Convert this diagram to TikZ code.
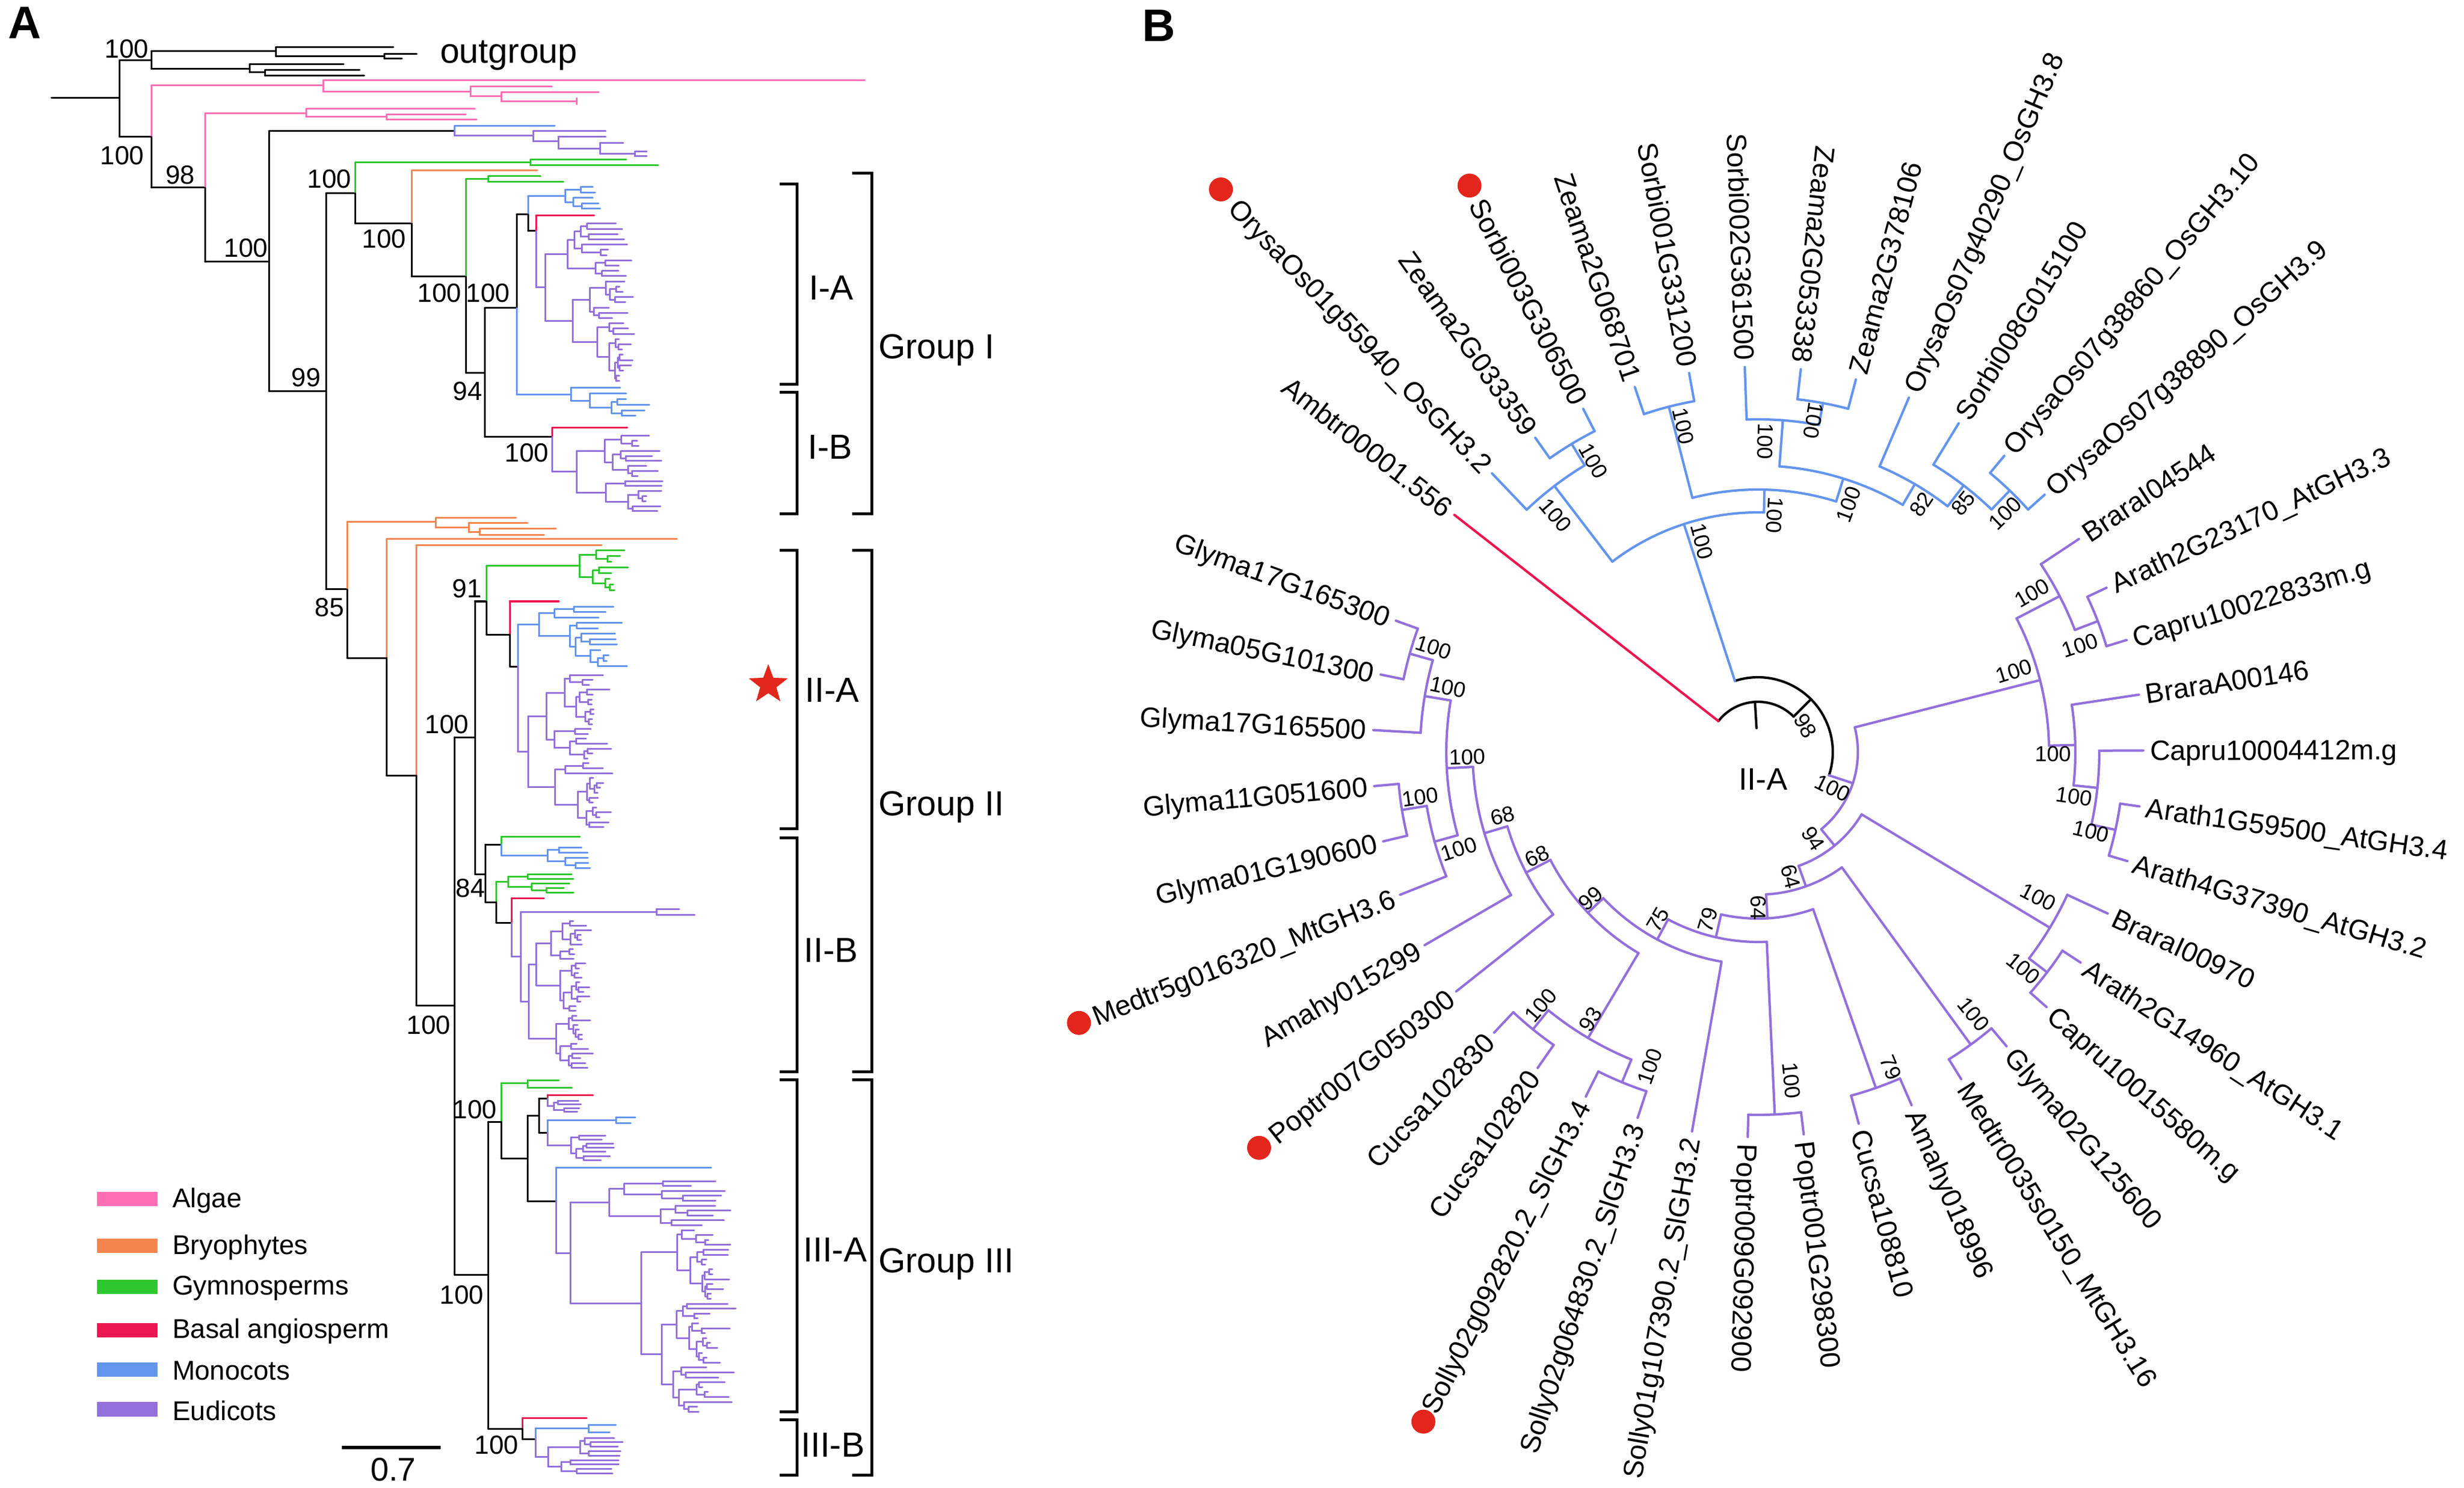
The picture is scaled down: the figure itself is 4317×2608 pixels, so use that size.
\documentclass[tikz,border=0pt]{standalone}
\usepackage{fontspec}
\setmainfont{Liberation Sans}
\usetikzlibrary{calc,shapes.geometric}
\definecolor{algc}{HTML}{FF6EB4}
\definecolor{bryc}{HTML}{F5854F}
\definecolor{gymc}{HTML}{2EC82E}
\definecolor{basc}{HTML}{EC1650}
\definecolor{monc}{HTML}{6495ED}
\definecolor{eudc}{HTML}{9370DB}
\definecolor{dotc}{HTML}{E3261B}
\tikzset{
  lnA/.style={line width=0.6pt, line cap=round},
  bk/.style={lnA, draw=black},
  al/.style={lnA, draw=algc},
  bry/.style={lnA, draw=bryc},
  gy/.style={lnA, draw=gymc},
  ba/.style={lnA, draw=basc},
  mo/.style={lnA, draw=monc},
  eu/.style={lnA, draw=eudc},
  lnB/.style={line width=0.85pt, line cap=round},
  bkB/.style={lnB, draw=black},
  baB/.style={lnB, draw=basc},
  moB/.style={lnB, draw=monc},
  euB/.style={lnB, draw=eudc},
  brk/.style={draw=black, line width=1pt},
  leafB/.style={inner sep=0pt, font=\fontsize{9.8}{11}\selectfont, text height=7pt, text depth=0pt},
  bsB/.style={inner sep=0pt, font=\fontsize{7.6}{9}\selectfont},
  bsA/.style={inner sep=0pt, font=\fontsize{9.2}{11}\selectfont},
  labA/.style={inner sep=0pt, font=\fontsize{12.2}{14}\selectfont},
  legt/.style={inner sep=0pt, anchor=west, font=\fontsize{9.5}{11}\selectfont},
}
\makeatletter
\def\cljit{40}
\newcommand\cl[7]{%
  \begingroup
  \ifnum#5<2\relax
    \pgfmathsetmacro\cl@xe{max(#2+6,#7+\cljit*(rnd-0.5))}%
    \draw[#1] (#2,#4) -- (\cl@xe,#4);
    \xdef\clret{#4}%
  \else
    \pgfmathtruncatemacro\cl@ka{max(1,min(#5-1,round(#5*(0.2+0.45*rnd))))}%
    \pgfmathtruncatemacro\cl@kb{#5-\cl@ka}%
    \pgfmathsetmacro\cl@yb{#4+\cl@ka*#6}%
    \pgfmathsetmacro\cl@xa{#3+(#7-#3)*(0.12+0.4*rnd)}%
    \pgfmathsetmacro\cl@xb{#3+(#7-#3)*(0.12+0.4*rnd)}%
    \edef\cl@next{\noexpand\cl{#1}{#3}{\cl@xa}{#4}{\cl@ka}{#6}{#7}}\cl@next
    \let\cl@sa\clret
    \edef\cl@next{\noexpand\cl{#1}{#3}{\cl@xb}{\cl@yb}{\cl@kb}{#6}{#7}}\cl@next
    \let\cl@sb\clret
    \draw[#1] (#3,\cl@sa) -- (#3,\cl@sb);
    \pgfmathsetmacro\cl@s{(\cl@sa+\cl@sb)/2}%
    \draw[#1] (#2,\cl@s) -- (#3,\cl@s);
    \xdef\clret{\cl@s}%
  \fi
  \endgroup}
\makeatother
\newcommand\trad[4]{\draw[#1] (#2:#3) -- (#2:#4);}
\newcommand\arcb[4]{\draw[#1] (#2:#4) arc[start angle=#2, end angle=#3, radius=#4];}
\newcommand\lfR[3][]{\node[leafB,rotate=#2,anchor=west,#1] at (#2:686) {#3};}
\newcommand\lfL[3][]{\node[leafB,rotate=#2+180,anchor=east,#1] at (#2:686) {#3};}
\newcommand\bsR[3]{\node[bsB,rotate=#1] at (#1:#2) {#3};}
\newcommand\bsL[3]{\node[bsB,rotate=#1+180] at (#1:#2) {#3};}
\begin{document}
\begin{tikzpicture}[x=0.2pt,y=-0.2pt]
\useasboundingbox (0,0) rectangle (4317,2608);
\fill[white] (0,0) rectangle (4317,2608);
% ================= PANEL A =================
\node[inner sep=0pt, font=\fontsize{16}{18}\selectfont\bfseries] (pA) at (43,40) {A};
% root and outgroup
\draw[bk] (90,172) -- (209,172);
\draw[bk] (209,106) -- (209,240);
\draw[bk] (209,106) -- (265,106);
\draw[bk] (265,90) -- (265,121);
\draw[bk] (265,90) -- (483,90);
\draw[bk] (483,83) -- (483,99);
\draw[bk] (483,83) -- (689,83);
\draw[bk] (483,99) -- (673,99);
\draw[bk] (673,95) -- (673,103);
\draw[bk] (673,95) -- (730,95);
\draw[bk] (673,103) -- (704,103);
\draw[bk] (265,121) -- (437,121);
\draw[bk] (437,113) -- (437,127);
\draw[bk] (437,113) -- (602,113);
\draw[bk] (437,127) -- (464,127);
\draw[bk] (464,123) -- (464,133);
\draw[bk] (464,123) -- (630,123);
\draw[bk] (464,133) -- (638,133);
\node[labA, anchor=west] (og) at (770,97) {outgroup};
% node 100 (algae 1)
\draw[bk] (209,240) -- (265,240);
\draw[al] (265,150) -- (265,240);
\draw[bk] (265,240) -- (265,329);
\draw[al] (265,150) -- (566,150);
\draw[al] (566,141) -- (566,161);
\draw[al] (566,141) -- (1515,141);
\draw[al] (566,161) -- (824,161);
\draw[al] (824,152) -- (824,169);
\draw[al] (824,152) -- (967,152);
\draw[al] (824,169) -- (878,169);
\draw[al] (878,162) -- (878,178);
\draw[al] (878,162) -- (1049,162);
\draw[al] (878,178) -- (1010,178);
\draw[al] (1010,172) -- (1010,183);
% node 98 (algae 2)
\draw[bk] (265,329) -- (359,329);
\draw[al] (359,199) -- (359,329);
\draw[bk] (359,329) -- (359,459);
\draw[al] (359,199) -- (536,199);
\draw[al] (536,191) -- (536,205);
\draw[al] (536,191) -- (832,191);
\draw[al] (536,205) -- (677,205);
\draw[al] (677,201) -- (677,210);
\draw[al] (677,201) -- (816,201);
\draw[al] (677,210) -- (835,210);
% node 100 at 471
\draw[bk] (359,459) -- (471,459);
\draw[bk] (471,230) -- (471,686);
\draw[bk] (471,230) -- (796,230);
\draw[mo] (796,221) -- (796,230);
\draw[eu] (796,230) -- (796,238);
\draw[mo] (796,221) -- (972,221);
\draw[eu] (796,238) -- (934,238);
\draw[eu] (934,230) -- (934,248);
\draw[eu] (934,230) -- (1061,230);
\draw[eu] (934,248) -- (978,248);
\draw[eu] (978,240) -- (978,261);
\draw[eu] (978,240) -- (1061,240);
\draw[eu] (978,261) -- (1051,261);
\draw[eu] (1051,251) -- (1051,270);
\draw[eu] (1051,251) -- (1092,251);
\draw[eu] (1051,270) -- (1112,270);
\draw[eu] (1112,266) -- (1112,274);
\draw[eu] (1112,266) -- (1133,266);
\draw[eu] (1112,274) -- (1133,274);
% node 99 at 571
\draw[bk] (471,686) -- (571,686);
\draw[bk] (571,339) -- (571,1033);
% Group I
\draw[bk] (571,339) -- (622,339);
\draw[gy] (622,285) -- (622,339);
\draw[bk] (622,339) -- (622,392);
\draw[gy] (622,285) -- (929,285);
\draw[gy] (929,280) -- (929,290);
\draw[gy] (929,280) -- (1097,280);
\draw[gy] (929,290) -- (1153,290);
\draw[bk] (622,392) -- (721,392);
\draw[bry] (721,299) -- (721,392);
\draw[bk] (721,392) -- (721,485);
\draw[bry] (721,299) -- (941,299);
\draw[bk] (721,485) -- (816,485);
\draw[gy] (816,314) -- (816,485);
\draw[bk] (816,485) -- (816,654);
\draw[gy] (816,314) -- (855,314);
\draw[gy] (855,309) -- (855,319);
\draw[gy] (855,309) -- (947,309);
\draw[gy] (855,319) -- (987,319);
\draw[bk] (816,654) -- (849,654);
\draw[bk] (849,540) -- (849,766);
% I-A
\draw[bk] (849,540) -- (905,540);
\draw[bk] (905,376) -- (905,540);
\draw[bk] (905,376) -- (925,376);
\pgfmathsetseed{11}\def\cljit{20}\cl{mo}{925}{990}{328}{5}{9.5}{1045}
\draw[mo] (925,\clret) -- (925,376);
\draw[bk] (925,376) -- (925,405);
\draw[bk] (925,405) -- (939,405);
\draw[ba] (939,378) -- (939,405);
\draw[ba] (939,378) -- (1041,378);
\pgfmathsetseed{12}\def\cljit{60}\cl{eu}{939}{955}{392}{31}{9.2}{1090}
\draw[eu] (939,405) -- (939,\clret);
\pgfmathsetseed{13}\def\cljit{60}\cl{mo}{905}{1000}{680}{6}{9.8}{1110}
\draw[mo] (905,540) -- (905,\clret);
% I-B
\draw[bk] (849,766) -- (967,766);
\draw[ba] (967,750) -- (967,766);
\draw[ba] (967,750) -- (1099,750);
\pgfmathsetseed{14}\def\cljit{50}\cl{eu}{967}{1010}{764}{16}{8.8}{1140}
\draw[eu] (967,766) -- (967,\clret);
% node 85
\draw[bk] (571,1033) -- (608,1033);
\draw[bry] (608,915) -- (608,1033);
\draw[bk] (608,1033) -- (608,1153);
\draw[bry] (608,915) -- (763,915);
\draw[bry] (763,908) -- (763,925);
\draw[bry] (763,908) -- (904,908);
\draw[bry] (763,925) -- (821,925);
\draw[bry] (821,917) -- (821,933);
\draw[bry] (821,917) -- (924,917);
\draw[bry] (821,933) -- (840,933);
\draw[bry] (840,927) -- (840,938);
\draw[bry] (840,927) -- (974,927);
\draw[bry] (840,938) -- (953,938);
\draw[bk] (608,1153) -- (677,1153);
\draw[bry] (677,945) -- (677,1153);
\draw[bk] (677,1153) -- (677,1359);
\draw[bry] (677,945) -- (1186,945);
\draw[bk] (677,1359) -- (729,1359);
\draw[bry] (729,956) -- (729,1359);
\draw[bk] (729,1359) -- (729,1762);
\draw[bry] (729,956) -- (1054,956);
\draw[bk] (729,1762) -- (796,1762);
\draw[bk] (796,1292) -- (796,2234);
% II
\draw[bk] (796,1292) -- (832,1292);
\draw[bk] (832,1054) -- (832,1532);
\draw[bk] (832,1054) -- (852,1054);
\pgfmathsetseed{15}\def\cljit{40}\cl{gy}{852}{1015}{965}{8}{10}{1085}
\draw[gy] (852,\clret) -- (852,1054);
\draw[bk] (852,1054) -- (852,1112);
\draw[bk] (852,1112) -- (893,1112);
\draw[ba] (893,1054) -- (893,1112);
\draw[ba] (893,1054) -- (979,1054);
\draw[bk] (893,1112) -- (893,1168);
\draw[bk] (893,1168) -- (907,1168);
\pgfmathsetseed{16}\def\cljit{60}\cl{mo}{907}{944}{1063}{12}{9.5}{1070}
\draw[mo] (907,\clret) -- (907,1168);
\pgfmathsetseed{17}\def\cljit{50}\cl{eu}{907}{925}{1183}{32}{8.6}{1050}
\draw[eu] (907,1168) -- (907,\clret);
% II-B
\draw[bk] (832,1532) -- (850,1532);
\draw[bk] (850,1480) -- (850,1581);
\draw[bk] (850,1480) -- (878,1480);
\draw[gy] (878,1466) -- (878,1480);
\draw[gy] (878,1466) -- (1016,1466);
\pgfmathsetseed{18}\def\cljit{20}\cl{mo}{878}{959}{1485}{5}{9}{1025}
\draw[mo] (878,1480) -- (878,\clret);
\draw[bk] (850,1581) -- (869,1581);
\pgfmathsetseed{19}\def\cljit{30}\cl{gy}{869}{890}{1532}{5}{8}{990}
\draw[gy] (869,\clret) -- (869,1581);
\draw[bk] (869,1581) -- (869,1617);
\draw[bk] (869,1617) -- (896,1617);
\draw[ba] (896,1574) -- (896,1617);
\draw[ba] (896,1574) -- (953,1574);
\pgfmathsetseed{20}\def\cljit{40}\cl{eu}{912}{926}{1614}{32}{8.3}{1020}
\draw[eu] (912,1598) -- (912,\clret);
\pgfmathsetmacro\tmps{(1598+\clret)/2}
\draw[eu] (896,\tmps) -- (912,\tmps);
\draw[eu] (896,1617) -- (896,\tmps);
\draw[eu] (912,1598) -- (1150,1598);
\draw[eu] (1150,1593) -- (1150,1603);
\draw[eu] (1150,1593) -- (1190,1593);
\draw[eu] (1150,1603) -- (1217,1603);
% III
\draw[bk] (796,2234) -- (855,2234);
\draw[bk] (855,1966) -- (855,2504);
\draw[bk] (855,1966) -- (878,1966);
\draw[gy] (878,1898) -- (878,1966);
\draw[bk] (878,1966) -- (878,2030);
\draw[gy] (878,1898) -- (924,1898);
\draw[gy] (924,1893) -- (924,1906);
\draw[gy] (924,1893) -- (979,1893);
\draw[gy] (924,1906) -- (1002,1906);
\draw[bk] (878,2030) -- (924,2030);
\draw[bk] (924,1955) -- (924,2105);
\draw[bk] (924,1955) -- (944,1955);
\draw[bk] (944,1925) -- (944,1985);
\draw[bk] (944,1925) -- (959,1925);
\draw[ba] (959,1919) -- (959,1925);
\draw[ba] (959,1919) -- (1039,1919);
\pgfmathsetseed{21}\def\cljit{20}\cl{eu}{959}{970}{1929}{4}{6.5}{1010}
\draw[eu] (959,1925) -- (959,\clret);
\draw[bk] (944,1985) -- (959,1985);
\draw[mo] (959,1963) -- (959,1985);
\draw[mo] (959,1963) -- (1079,1963);
\draw[mo] (1079,1958) -- (1079,1968);
\draw[mo] (1079,1958) -- (1113,1958);
\draw[mo] (1079,1968) -- (1105,1968);
\pgfmathsetseed{22}\def\cljit{30}\cl{eu}{959}{1000}{1990}{7}{7.2}{1065}
\draw[eu] (959,1985) -- (959,\clret);
\draw[bk] (924,2105) -- (974,2105);
\draw[mo] (974,2046) -- (974,2105);
\draw[mo] (974,2046) -- (1246,2046);
\pgfmathsetseed{23}\def\cljit{80}\cl{eu}{974}{999}{2070}{48}{8.6}{1250}
\draw[eu] (974,2105) -- (974,\clret);
% III-B
\draw[bk] (855,2504) -- (915,2504);
\draw[ba] (915,2485) -- (915,2504);
\draw[ba] (915,2485) -- (1028,2485);
\draw[bk] (915,2504) -- (915,2522);
\draw[bk] (915,2522) -- (938,2522);
\draw[mo] (938,2503) -- (938,2522);
\draw[mo] (938,2503) -- (1031,2503);
\draw[mo] (1031,2497) -- (1031,2510);
\draw[mo] (1031,2497) -- (1079,2497);
\draw[mo] (1031,2510) -- (1068,2510);
\pgfmathsetseed{24}\def\cljit{30}\cl{eu}{938}{960}{2520}{9}{7.8}{1080}
\draw[eu] (938,2522) -- (938,\clret);
% bootstrap labels A
\node[bsA] at (222,86) {100};
\node[bsA] at (214,273) {100};
\node[bsA] at (316,307) {98};
\node[bsA] at (431,435) {100};
\node[bsA] at (536,662) {99};
\node[bsA] at (577,314) {100};
\node[bsA] at (673,419) {100};
\node[bsA] at (770,514) {100};
\node[bsA] at (855,514) {100};
\node[bsA] at (819,686) {94};
\node[bsA] at (923,794) {100};
\node[bsA] at (577,1065) {85};
\node[bsA] at (818,1032) {91};
\node[bsA] at (783,1270) {100};
\node[bsA] at (824,1557) {84};
\node[bsA] at (751,1797) {100};
\node[bsA] at (832,1945) {100};
\node[bsA] at (809,2270) {100};
\node[bsA] at (870,2533) {100};
% brackets
\draw[brk] (1366,323) -- (1396,323) -- (1396,674) -- (1366,674);
\draw[brk] (1366,688) -- (1396,688) -- (1396,901) -- (1366,901);
\draw[brk] (1493,304) -- (1527,304) -- (1527,901) -- (1493,901);
\draw[brk] (1366,965) -- (1396,965) -- (1396,1452) -- (1366,1452);
\draw[brk] (1366,1468) -- (1396,1468) -- (1396,1878) -- (1366,1878);
\draw[brk] (1493,965) -- (1527,965) -- (1527,1878) -- (1493,1878);
\draw[brk] (1366,1892) -- (1396,1892) -- (1396,2474) -- (1366,2474);
\draw[brk] (1366,2488) -- (1396,2488) -- (1396,2585) -- (1366,2585);
\draw[brk] (1493,1892) -- (1527,1892) -- (1527,2585) -- (1493,2585);
\node[labA] (lIA) at (1456,505) {I-A};
\node[labA] (lIB) at (1454,784) {I-B};
\node[labA, anchor=west] (lG1) at (1538,614) {Group I};
\node[labA] (lIIA) at (1458,1210) {II-A};
\node[labA, anchor=west] (lG2) at (1538,1415) {Group II};
\node[labA] (lIIB) at (1456,1666) {II-B};
\node[labA] (lIIIA) at (1463,2190) {III-A};
\node[labA, anchor=west] (lG3) at (1538,2216) {Group III};
\node[labA] (lIIIB) at (1459,2532) {III-B};
\node[star, star points=5, star point ratio=2.4, fill=dotc, inner sep=0pt, minimum size=14.4pt] (st) at (1346,1200) {};
% legend
\fill[algc] (170,2089) rectangle (276,2114);
\fill[bryc] (170,2171) rectangle (276,2196);
\fill[gymc] (170,2243) rectangle (276,2268);
\fill[basc] (170,2319) rectangle (276,2344);
\fill[monc] (170,2388) rectangle (276,2413);
\fill[eudc] (170,2457) rectangle (276,2483);
\node[legt] (g1) at (301,2104) {Algae};
\node[legt] (g2) at (301,2186) {Bryophytes};
\node[legt] (g3) at (301,2258) {Gymnosperms};
\node[legt] (g4) at (301,2333) {Basal angiosperm};
\node[legt] (g5) at (301,2402) {Monocots};
\node[legt] (g6) at (301,2472) {Eudicots};
\draw[line width=1.1pt] (599,2537) -- (772,2537);
\node[inner sep=0pt, font=\fontsize{11.5}{13}\selectfont] (sc) at (689,2576) {0.7};
% ================= PANEL B =================
\node[inner sep=0pt, font=\fontsize{16}{18}\selectfont\bfseries] (pB) at (2030,45) {B};
\begin{scope}[shift={(3080,1318)}, yscale=-1]
\trad{bkB}{93.45}{42}{88}
\arcb{bkB}{44.9}{142}{88}
\trad{baB}{142}{88}{675}
\trad{bkB}{44.9}{88}{131}
\arcb{bkB}{-18.21}{108}{131}
% monocots
\trad{moB}{108}{131}{420}
\arcb{moB}{88.58}{127.41}{420}
\trad{moB}{127.41}{420}{587}
\arcb{moB}{121.15}{133.66}{587}
\trad{moB}{133.66}{587}{675}
\trad{moB}{121.15}{587}{631}
\arcb{moB}{116.98}{125.32}{631}
\trad{moB}{125.32}{631}{675}
\trad{moB}{116.98}{631}{675}
\trad{moB}{88.58}{420}{460}
\arcb{moB}{72.68}{104.47}{460}
\trad{moB}{104.47}{460}{625}
\arcb{moB}{100.30}{108.64}{625}
\trad{moB}{108.64}{625}{675}
\trad{moB}{100.30}{625}{675}
\trad{moB}{72.68}{460}{502}
\arcb{moB}{59.65}{85.71}{502}
\trad{moB}{85.71}{502}{583}
\arcb{moB}{79.45}{91.96}{583}
\trad{moB}{91.96}{583}{675}
\trad{moB}{79.45}{583}{622}
\arcb{moB}{75.28}{83.62}{622}
\trad{moB}{83.62}{622}{675}
\trad{moB}{75.28}{622}{675}
\trad{moB}{59.65}{502}{544}
\arcb{moB}{52.35}{66.94}{544}
\trad{moB}{66.94}{544}{675}
\trad{moB}{52.35}{544}{590}
\arcb{moB}{46.09}{58.60}{590}
\trad{moB}{58.60}{590}{675}
\trad{moB}{46.09}{590}{636}
\arcb{moB}{41.92}{50.26}{636}
\trad{moB}{50.26}{636}{675}
\trad{moB}{41.92}{636}{675}
% eudicots
\trad{euB}{-18.21}{131}{175}
\arcb{euB}{-50.72}{14.30}{175}
\trad{euB}{14.30}{175}{510}
\arcb{euB}{1.26}{27.33}{510}
\trad{euB}{27.33}{510}{595}
\arcb{euB}{21.07}{33.58}{595}
\trad{euB}{33.58}{595}{675}
\trad{euB}{21.07}{595}{638}
\arcb{euB}{16.90}{25.24}{638}
\trad{euB}{25.24}{638}{675}
\trad{euB}{16.90}{638}{675}
\trad{euB}{1.26}{510}{556}
\arcb{euB}{-6.04}{8.56}{556}
\trad{euB}{8.56}{556}{675}
\trad{euB}{-6.04}{556}{598}
\arcb{euB}{-12.29}{0.22}{598}
\trad{euB}{0.22}{598}{675}
\trad{euB}{-12.29}{598}{641}
\arcb{euB}{-16.46}{-8.12}{641}
\trad{euB}{-8.12}{641}{675}
\trad{euB}{-16.46}{641}{675}
\trad{euB}{-50.72}{175}{212}
\arcb{euB}{-70.37}{-31.06}{212}
\trad{euB}{-31.06}{212}{597}
\arcb{euB}{-37.31}{-24.80}{597}
\trad{euB}{-24.80}{597}{675}
\trad{euB}{-37.31}{597}{637}
\arcb{euB}{-41.48}{-33.14}{637}
\trad{euB}{-33.14}{637}{675}
\trad{euB}{-41.48}{637}{675}
\trad{euB}{-70.37}{212}{250}
\arcb{euB}{-86.74}{-53.99}{250}
\trad{euB}{-53.99}{250}{634}
\arcb{euB}{-58.16}{-49.82}{634}
\trad{euB}{-49.82}{634}{675}
\trad{euB}{-58.16}{634}{675}
\trad{euB}{-86.74}{250}{292}
\arcb{euB}{-102.8}{-70.67}{292}
\trad{euB}{-70.67}{292}{624}
\arcb{euB}{-74.84}{-66.50}{624}
\trad{euB}{-66.50}{624}{675}
\trad{euB}{-74.84}{624}{675}
\trad{euB}{-102.8}{292}{333}
\arcb{euB}{-118.24}{-87.35}{333}
\trad{euB}{-87.35}{333}{636}
\arcb{euB}{-91.52}{-83.18}{636}
\trad{euB}{-83.18}{636}{675}
\trad{euB}{-91.52}{636}{675}
\trad{euB}{-118.24}{333}{373}
\arcb{euB}{-136.61}{-99.86}{373}
\trad{euB}{-99.86}{373}{675}
\trad{euB}{-136.61}{373}{410}
\arcb{euB}{-152.51}{-120.71}{410}
\trad{euB}{-120.71}{410}{583}
\arcb{euB}{-129.05}{-112.37}{583}
\trad{euB}{-112.37}{583}{626}
\arcb{euB}{-116.54}{-108.2}{626}
\trad{euB}{-108.2}{626}{675}
\trad{euB}{-116.54}{626}{675}
\trad{euB}{-129.05}{583}{626}
\arcb{euB}{-133.22}{-124.88}{626}
\trad{euB}{-124.88}{626}{675}
\trad{euB}{-133.22}{626}{675}
\trad{euB}{-152.51}{410}{458}
\arcb{euB}{-163.46}{-141.56}{458}
\trad{euB}{-141.56}{458}{675}
\trad{euB}{-163.46}{458}{500}
\arcb{euB}{-177.01}{-149.9}{500}
\trad{euB}{-149.9}{500}{675}
\trad{euB}{-177.01}{500}{546}
\arcb{euB}{-189.52}{-164.5}{546}
\trad{euB}{-164.5}{546}{588}
\arcb{euB}{-170.75}{-158.24}{588}
\trad{euB}{-158.24}{588}{675}
\trad{euB}{-170.75}{588}{632}
\arcb{euB}{-174.92}{-166.58}{632}
\trad{euB}{-166.58}{632}{675}
\trad{euB}{-174.92}{632}{675}
\trad{euB}{-189.52}{546}{592}
\arcb{euB}{-195.77}{-183.26}{592}
\trad{euB}{-183.26}{592}{675}
\trad{euB}{-195.77}{592}{634}
\arcb{euB}{-199.94}{-191.6}{634}
\trad{euB}{-191.6}{634}{675}
\trad{euB}{-199.94}{634}{675}
% leaf labels
\lfL{142}{Ambtr00001.556}
\lfL{133.66}{OrysaOs01g55940\_OsGH3.2}
\lfL{125.32}{Zeama2G033359}
\lfL{116.98}{Sorbi003G306500}
\lfL{108.64}{Zeama2G068701}
\lfL{100.30}{Sorbi001G331200}
\lfL{91.96}{Sorbi002G361500}
\lfL{83.62}{Zeama2G053338}
\lfR{75.28}{Zeama2G378106}
\lfR{66.94}{OrysaOs07g40290\_OsGH3.8}
\lfR{58.60}{Sorbi008G015100}
\lfR{50.26}{OrysaOs07g38860\_OsGH3.10}
\lfR{41.92}{OrysaOs07g38890\_OsGH3.9}
\lfR{33.58}{BraraI04544}
\lfR{25.24}{Arath2G23170\_AtGH3.3}
\lfR{16.90}{Capru10022833m.g}
\lfR{8.56}{BraraA00146}
\lfR{0.22}{Capru10004412m.g}
\lfR{-8.12}{Arath1G59500\_AtGH3.4}
\lfR{-16.46}{Arath4G37390\_AtGH3.2}
\lfR{-24.80}{BraraI00970}
\lfR{-33.14}{Arath2G14960\_AtGH3.1}
\lfR{-41.48}{Capru10015580m.g}
\lfR{-49.82}{Glyma02G125600}
\lfR{-58.16}{Medtr0035s0150\_MtGH3.16}
\lfR{-66.50}{Amahy018996}
\lfR{-74.84}{Cucsa108810}
\lfR{-83.18}{Poptr001G298300}
\lfR{-91.52}{Poptr009G092900}
\lfL{-99.86}{Solly01g107390.2\_SlGH3.2}
\lfL{-108.2}{Solly02g064830.2\_SlGH3.3}
\lfL{-116.54}{Solly02g092820.2\_SlGH3.4}
\lfL{-124.88}{Cucsa102820}
\lfL{-133.22}{Cucsa102830}
\lfL{-141.56}{Poptr007G050300}
\lfL{-149.9}{Amahy015299}
\lfL{-158.24}{Medtr5g016320\_MtGH3.6}
\lfL{-166.58}{Glyma01G190600}
\lfL{-174.92}{Glyma11G051600}
\lfL{-183.26}{Glyma17G165500}
\lfL{-191.6}{Glyma05G101300}
\lfL{-199.94}{Glyma17G165300}
% red dots
\fill[dotc] (133.66:1363) circle[radius=21];
\fill[dotc] (116.98:1114) circle[radius=21];
\fill[dotc] (-158.24:1281) circle[radius=21];
\fill[dotc] (-141.56:1116) circle[radius=21];
\fill[dotc] (-116.54:1312) circle[radius=21];
% bootstrap labels B
\bsL{119.5}{586}{100}
\bsL{130.5}{546}{100}
\bsL{102.9}{586}{100}
\bsL{104.9}{382}{100}
\bsL{88.7}{545}{100}
\bsL{80.5}{589}{100}
\bsL{86}{416}{100}
\bsR{69.9}{462}{100}
\bsR{56.6}{520}{82}
\bsR{50.5}{565}{85}
\bsR{44}{602}{100}
\bsR{30.1}{555}{100}
\bsR{18.3}{594}{100}
\bsR{17.5}{470}{100}
\bsR{-0.4}{517}{100}
\bsR{-8}{559}{100}
\bsR{-13.4}{600}{100}
\bsR{-27.4}{553}{100}
\bsR{-39.2}{600}{100}
\bsR{-50.6}{595}{100}
\bsR{-67.2}{600}{79}
\bsR{-84.2}{579}{100}
\bsR{-57.5}{180}{94}
\bsR{-75.4}{226}{64}
\bsR{-89.8}{273}{64}
\bsL{-106.7}{307}{79}
\bsL{-120.8}{342}{75}
\bsL{-138.8}{390}{99}
\bsL{-122.1}{553}{93}
\bsL{-130.6}{585}{100}
\bsL{-109}{583}{100}
\bsL{-154.8}{428}{68}
\bsL{-166}{461}{68}
\bsL{-179}{509}{100}
\bsL{-162}{551}{100}
\bsL{-172.4}{597}{100}
\bsL{168.2}{555}{100}
\bsL{162.1}{597}{100}
\bsR{-26}{145}{100}
\node[bsB, rotate=-60] (b98) at (29:95) {98};
\node[inner sep=0pt, font=\fontsize{10.9}{12}\selectfont] (cIIA) at (9,-48) {II-A};
\end{scope}
\end{tikzpicture}
\end{document}
